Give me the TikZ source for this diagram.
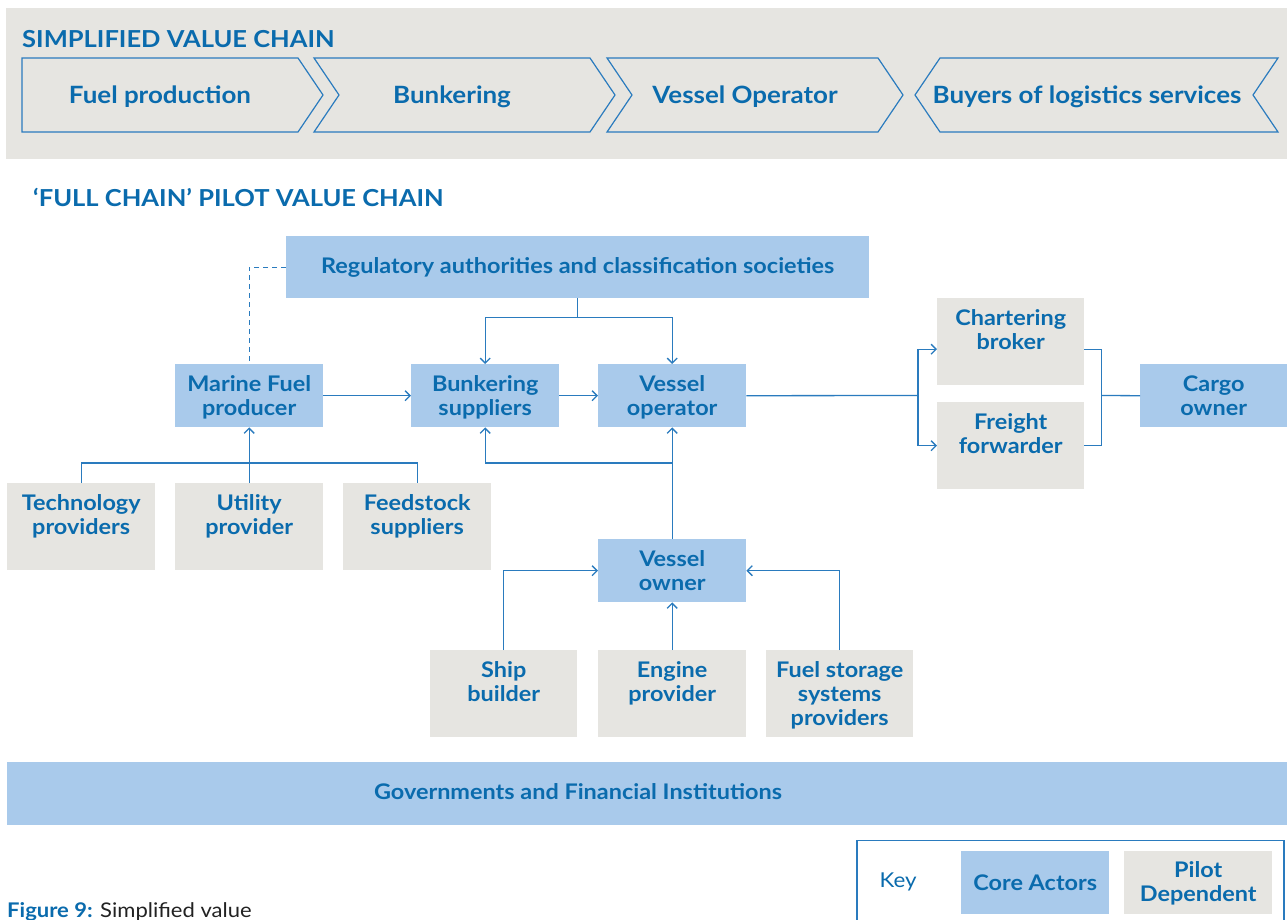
\documentclass[tikz,border=0pt]{standalone}
\usepackage{fontspec}
\setmainfont{Lato}[FakeStretch=1.09]
\usetikzlibrary{arrows.meta,positioning,calc}
\definecolor{txtblue}{HTML}{0A6BAD}
\definecolor{lineblue}{HTML}{2A7BBE}
\definecolor{coreblue}{HTML}{A9CAEB}
\definecolor{pilotgrey}{HTML}{E6E5E1}
\definecolor{captiongrey}{HTML}{222222}
\newcommand{\myStrut}{\rule{0pt}{17pt}}
\tikzset{
  corebox/.style={fill=coreblue, draw=none, inner sep=0pt, anchor=north west},
  pilotbox/.style={fill=pilotgrey, draw=none, inner sep=0pt, anchor=north west},
  boxtxt/.style={text=txtblue, font=\bfseries\fontsize{21.5}{24}\selectfont, align=center, inner sep=0pt, anchor=north},
  chevtxt/.style={text=txtblue, font=\bfseries\fontsize{23.8}{26}\selectfont, inner sep=0pt, anchor=base},
  titletxt/.style={text=txtblue, font=\bfseries\fontsize{23.4}{26}\selectfont, inner sep=0pt, anchor=west},
  chev/.style={draw=lineblue, line width=1.2pt, line join=miter},
  conn/.style={draw=lineblue, line width=1.3pt},
  arr/.style={conn, -{Straight Barb[length=5pt,width=10pt,line width=1.3pt]}},
  dashconn/.style={conn, dash pattern=on 5pt off 4pt},
}
\begin{document}
\begin{tikzpicture}[x=1pt,y=-1pt]
\useasboundingbox (0,0) rectangle (1287,920);
\fill[white] (0,0) rectangle (1287,920);

% ---------- simplified value chain banner ----------
\node[pilotbox, minimum width=1281, minimum height=151] (banner) at (6,8) {};
\node[titletxt] (bannertitle) at (22,39) {SIMPLIFIED VALUE CHAIN};
\draw[chev] (22,58) -- (298,58) -- (323,95) -- (298,132) -- (22,132) -- cycle;
\draw[chev] (314,58) -- (590,58) -- (615,95) -- (590,132) -- (314,132) -- (339,95) -- cycle;
\draw[chev] (607,58) -- (878,58) -- (903,95) -- (878,132) -- (607,132) -- (632,95) -- cycle;
\draw[chev] (940,58) -- (1278,58) -- (1253,95) -- (1278,132) -- (940,132) -- (915,95) -- cycle;
\node[chevtxt] (c1) at (160,103.5) {Fuel production};
\node[chevtxt] (c2) at (452,103.5) {Bunkering};
\node[chevtxt] (c3) at (745,103.5) {Vessel Operator};
\node[chevtxt] (c4) at (1087,104) {Buyers of logistics services};

% ---------- full chain ----------
\node[titletxt] (fulltitle) at (33,197) {‘FULL CHAIN’ PILOT VALUE CHAIN};

\node[corebox, minimum width=583, minimum height=62] (reg) at (286,236) {};
\node[boxtxt, anchor=center] (regT) at (reg.center) {Regulatory authorities and classification societies};

\node[corebox, minimum width=148, minimum height=63] (mfp) at (175,364) {};
\node[corebox, minimum width=148, minimum height=63] (bunk) at (411,364) {};
\node[corebox, minimum width=148, minimum height=63] (vop) at (598,364) {};
\node[corebox, minimum width=147, minimum height=63] (cargo) at (1140,364) {};
\node[pilotbox, minimum width=147, minimum height=87] (cb) at (937,298) {};
\node[pilotbox, minimum width=147, minimum height=87] (ff) at (937,402) {};

\node[pilotbox, minimum width=148, minimum height=87] (tech) at (7,483) {};
\node[pilotbox, minimum width=148, minimum height=87] (util) at (175,483) {};
\node[pilotbox, minimum width=148, minimum height=87] (feed) at (343,483) {};

\node[corebox, minimum width=148, minimum height=63] (vown) at (598,539) {};
\node[pilotbox, minimum width=147, minimum height=87] (ship) at (430,650) {};
\node[pilotbox, minimum width=148, minimum height=87] (eng) at (598,650) {};
\node[pilotbox, minimum width=147, minimum height=87] (fss) at (766,650) {};

\node[boxtxt] (mfpT) at ($(mfp.north)+(0,10.5)$) {\myStrut Marine Fuel\\producer};
\node[boxtxt] (bunkT) at ($(bunk.north)+(0,10.5)$) {\myStrut Bunkering\\suppliers};
\node[boxtxt] (vopT) at ($(vop.north)+(0,10.5)$) {\myStrut Vessel\\operator};
\node[boxtxt] (cargoT) at ($(cargo.north)+(0,10.5)$) {\myStrut Cargo\\owner};
\node[boxtxt] (cbT) at ($(cb.north)+(0,10.5)$) {\myStrut Chartering\\broker};
\node[boxtxt] (ffT) at ($(ff.north)+(0,10)$) {\myStrut Freight\\forwarder};
\node[boxtxt] (techT) at ($(tech.north)+(0,10.5)$) {\myStrut Technology\\providers};
\node[boxtxt] (utilT) at ($(util.north)+(0,10.5)$) {\myStrut Utility\\provider};
\node[boxtxt] (feedT) at ($(feed.north)+(0,10.5)$) {\myStrut Feedstock\\suppliers};
\node[boxtxt] (vownT) at ($(vown.north)+(0,10)$) {\myStrut Vessel\\owner};
\node[boxtxt] (shipT) at ($(ship.north)+(0,10)$) {\myStrut Ship\\builder};
\node[boxtxt] (engT) at ($(eng.north)+(0,10)$) {\myStrut Engine\\provider};
\node[boxtxt] (fssT) at ($(fss.north)+(0,10)$) {\myStrut Fuel storage\\systems\\providers};

% connectors
\draw[dashconn] (reg.west) -| (mfp.north);
\coordinate (rj) at ($(reg.south)+(0,19)$);
\draw[conn] (reg.south) -- (rj);
\draw[arr] (rj) -| (bunk.north);
\draw[arr] (rj) -| (vop.north);
\draw[arr] (mfp.east) -- (bunk.west);
\draw[arr] (bunk.east) -- (vop.west);

\coordinate (vj) at (918,395.5);
\coordinate (cbin) at ($(cb.west)+(0,7.5)$);
\draw[conn] (vop.east) -- (vj);
\draw[arr] (vj) |- (cbin);
\draw[arr] (vj) |- (ff.west);
\coordinate (cbout) at ($(cb.east)+(0,7.5)$);
\coordinate (cj) at (1101.5,395.5);
\draw[conn] (cbout) -| (cj) |- (ff.east);
\draw[conn] (cj) -- (cargo.west);

\coordinate (lj) at (249,463);
\draw[conn] (tech.north) |- (lj) -| (feed.north);
\draw[arr] (util.north) -- (mfp.south);

\coordinate (bj) at (672,463);
\draw[arr] (bj) -| (bunk.south);
\draw[arr] (vown.north) -- (vop.south);

\draw[arr] (ship.north) |- (vown.west);
\draw[arr] (eng.north) -- (vown.south);
\draw[arr] (fss.north) |- (vown.east);

% governments bar
\node[corebox, minimum width=1280, minimum height=63] (gov) at (7,762) {};
\node[boxtxt, anchor=center] (govT) at (578,792) {Governments and Financial Institutions};

% key
\draw[draw=lineblue, line width=1.2pt] (857,925) -- (857,840.5) -- (1284,840.5) -- (1284,925);
\node[text=txtblue, font=\fontsize{20.5}{24}\selectfont, inner sep=0pt] (keyT) at (898,882) {Key};
\node[corebox, minimum width=148, minimum height=63] (keycore) at (961,851) {};
\node[pilotbox, minimum width=148, minimum height=63] (keypilot) at (1124,851) {};
\node[boxtxt, anchor=center] (keycoreT) at (keycore.center) {Core Actors};
\node[boxtxt] (keypilotT) at ($(keypilot.north)+(0,9)$) {\myStrut Pilot\\Dependent};

% caption
\node[anchor=base west, inner sep=0pt, font=\fontsize{20.2}{22}\selectfont, text=captiongrey] (cap) at (7,917.5) {\textcolor{txtblue}{\bfseries Figure 9:} Simplified value};
\end{tikzpicture}
\end{document}
